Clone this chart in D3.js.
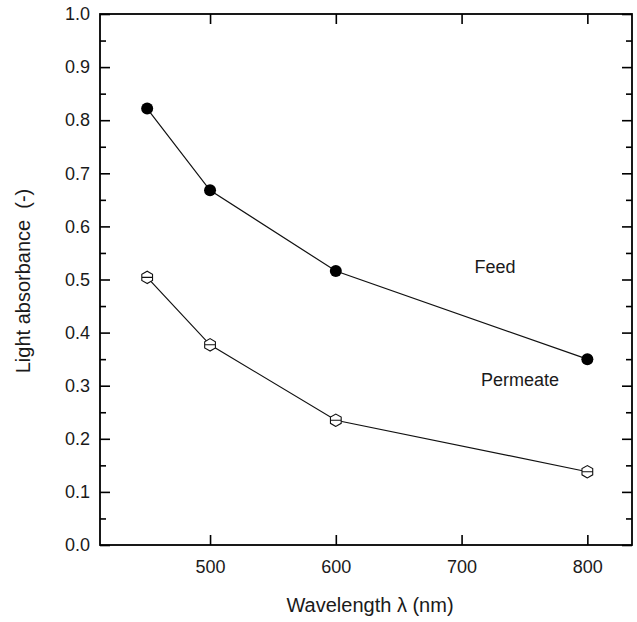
<!DOCTYPE html>
<html>
<head>
<meta charset="utf-8">
<script src="https://cdn.jsdelivr.net/npm/d3@7"></script>
<style>
  html, body { margin: 0; padding: 0; background: #fff; }
  svg { display: block; font-family: Arial, "Liberation Sans", Helvetica, sans-serif; }
</style>
</head>
<body>
<svg id="chart" width="637" height="622"></svg>
<script>
// Wavelengths (nm) at which absorbance was measured
const wavelengths = [450, 500, 600, 800];
// Light absorbance of the feed and the permeate
const feedValues = [0.822, 0.668, 0.516, 0.350];
const permeateValues = [0.504, 0.377, 0.235, 0.138];
// Axis ticks
const xTicks = [500, 600, 700, 800];
const yTicks = [0.0, 0.1, 0.2, 0.3, 0.4, 0.5, 0.6, 0.7, 0.8, 0.9, 1.0];
const yMinorTicks = [0.05, 0.15, 0.25, 0.35, 0.45, 0.55, 0.65, 0.75, 0.85, 0.95];

(function () {
const svg = d3.select("#chart");
const plotLeft = 100, plotRight = 632, plotTop = 14, plotBottom = 545;

const x = d3.scaleLinear().domain([412.5, 835.5]).range([plotLeft, plotRight]);
const y = d3.scaleLinear().domain([0, 1]).range([plotBottom, plotTop]);

const frame = svg.append("g");

// Inward ticks on all four sides
const axisStyle = g => {
  g.select(".domain").remove();
  g.selectAll(".tick line").attr("stroke", "#000").attr("stroke-width", 1.6);
  g.selectAll(".tick text").attr("fill", "#1a1a1a").style("font-size", "18px").style("font-family", "Arial, 'Liberation Sans', sans-serif");
};

frame.append("g").attr("transform", `translate(0,${plotBottom})`)
  .call(d3.axisBottom(x).tickValues(xTicks).tickSizeInner(-10).tickSizeOuter(0).tickPadding(15).tickFormat(d3.format("d")))
  .call(axisStyle);
frame.append("g").attr("transform", `translate(0,${plotTop})`)
  .call(d3.axisTop(x).tickValues(xTicks).tickSizeInner(-10).tickSizeOuter(0).tickFormat(""))
  .call(axisStyle);
frame.append("g").attr("transform", `translate(${plotLeft},0)`)
  .call(d3.axisLeft(y).tickValues(yTicks).tickSizeInner(-10).tickSizeOuter(0).tickPadding(10).tickFormat(d3.format(".1f")))
  .call(axisStyle);
frame.append("g").attr("transform", `translate(${plotLeft},0)`)
  .call(d3.axisLeft(y).tickValues(yMinorTicks).tickSizeInner(-6).tickSizeOuter(0).tickFormat(""))
  .call(axisStyle);
frame.append("g").attr("transform", `translate(${plotRight},0)`)
  .call(d3.axisRight(y).tickValues(yTicks).tickSizeInner(-10).tickSizeOuter(0).tickFormat(""))
  .call(axisStyle);
frame.append("g").attr("transform", `translate(${plotRight},0)`)
  .call(d3.axisRight(y).tickValues(yMinorTicks).tickSizeInner(-6).tickSizeOuter(0).tickFormat(""))
  .call(axisStyle);

// Plot frame
frame.append("rect")
  .attr("x", plotLeft).attr("y", plotTop)
  .attr("width", plotRight - plotLeft).attr("height", plotBottom - plotTop)
  .attr("fill", "none").attr("stroke", "#000").attr("stroke-width", 1.8);

const line = d3.line().x(d => x(d[0])).y(d => y(d[1]));
const feed = wavelengths.map((w, i) => [w, feedValues[i]]);
const permeate = wavelengths.map((w, i) => [w, permeateValues[i]]);

svg.append("path").datum(feed).attr("d", line)
  .attr("fill", "none").attr("stroke", "#111").attr("stroke-width", 1.2);
svg.append("path").datum(permeate).attr("d", line)
  .attr("fill", "none").attr("stroke", "#111").attr("stroke-width", 1.2);

// Feed: filled circles
svg.append("g").selectAll("circle").data(feed).join("circle")
  .attr("cx", d => x(d[0])).attr("cy", d => y(d[1])).attr("r", 6)
  .attr("fill", "#000");

// Permeate: open hexagons with a horizontal bar
const r = 6.2;
const hex = d3.range(6).map(k => {
  const a = Math.PI / 2 + k * Math.PI / 3;
  return [r * Math.cos(a), r * Math.sin(a)];
});
const hexPath = "M" + hex.map(p => p.join(",")).join("L") + "Z"
  + `M${-r * Math.sqrt(3) / 2},0H${r * Math.sqrt(3) / 2}`;
svg.append("g").selectAll("path").data(permeate).join("path")
  .attr("transform", d => `translate(${x(d[0])},${y(d[1])})`)
  .attr("d", hexPath)
  .attr("fill", "#fff").attr("stroke", "#111").attr("stroke-width", 1.1);

// Series labels
svg.append("text").attr("x", 495).attr("y", 268).attr("text-anchor", "middle")
  .attr("dominant-baseline", "middle").style("font-size", "18px").attr("fill", "#1a1a1a").text("Feed");
svg.append("text").attr("x", 520).attr("y", 381).attr("text-anchor", "middle")
  .attr("dominant-baseline", "middle").style("font-size", "18px").attr("fill", "#1a1a1a").text("Permeate");

// Axis titles
svg.append("text").attr("x", 370).attr("y", 607).attr("text-anchor", "middle")
  .attr("dominant-baseline", "middle").style("font-size", "20px").attr("fill", "#1a1a1a")
  .text("Wavelength λ (nm)");
svg.append("text").attr("transform", "translate(25,281) rotate(-90)").attr("text-anchor", "middle")
  .attr("dominant-baseline", "middle").style("font-size", "20px").attr("fill", "#1a1a1a")
  .attr("xml:space", "preserve")
  .text("Light absorbance  (-)");
})();
</script>
</body>
</html>
